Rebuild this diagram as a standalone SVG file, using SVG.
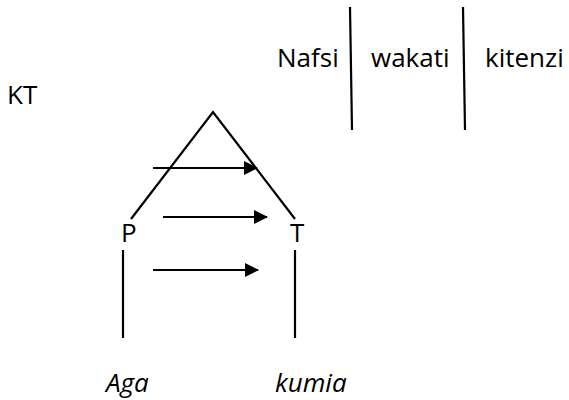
<svg xmlns="http://www.w3.org/2000/svg" width="569" height="400" viewBox="0 0 569 400">
<defs>
<style>
text{font-family:"Open Sans","Noto Sans",sans-serif;font-size:26px;fill:#000}
.it{font-style:italic}
.ln{stroke:#000;stroke-width:2.2;fill:none}
</style>
<marker id="ah" markerWidth="14" markerHeight="14" refX="13" refY="7" orient="auto" markerUnits="userSpaceOnUse">
<path d="M0,0 L14,7 L0,14 Z" fill="#000"/>
</marker>
</defs>
<rect width="569" height="400" fill="#fff"/>
<g id="header">
<text x="277" y="67">Nafsi</text>
<text x="371" y="67">wakati</text>
<text x="485" y="67">kitenzi</text>
<line class="ln" x1="350" y1="7" x2="352" y2="130"/>
<line class="ln" x1="463" y1="7" x2="465" y2="130"/>
</g>
<g id="kt"><text x="7" y="104">KT</text></g>
<g id="p"><text x="121" y="242">P</text></g>
<g id="t"><text x="290" y="242">T</text></g>
<g id="aga"><text class="it" x="106" y="392">Aga</text></g>
<g id="kumia"><text class="it" x="275" y="392">kumia</text></g>
<g id="connectors">
<polyline class="ln" points="131,219 213,112 295,219"/>
<line class="ln" x1="123" y1="250" x2="123" y2="338"/>
<line class="ln" x1="295" y1="250" x2="295" y2="338"/>
<line class="ln" x1="153" y1="168" x2="257" y2="168" marker-end="url(#ah)"/>
<line class="ln" x1="163" y1="217" x2="267" y2="217" marker-end="url(#ah)"/>
<line class="ln" x1="153" y1="270" x2="258" y2="270" marker-end="url(#ah)"/>
</g>
</svg>
